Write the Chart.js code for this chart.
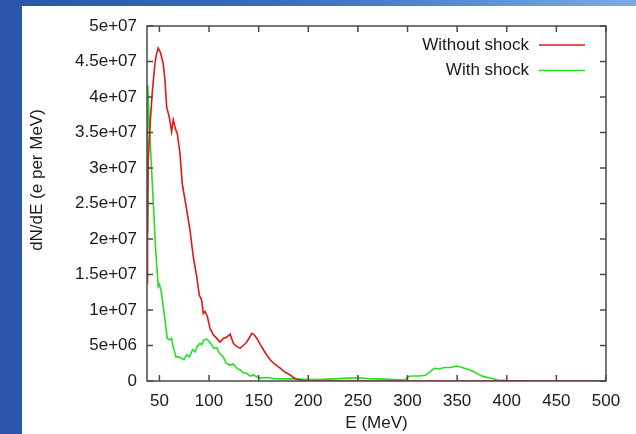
<!DOCTYPE html>
<html>
<head>
<meta charset="utf-8">
<script src="https://cdn.jsdelivr.net/npm/chart.js@4.4.1/dist/chart.umd.min.js"></script>
<style>
  html, body { margin: 0; padding: 0; }
  body {
    width: 636px; height: 434px; overflow: hidden; position: relative;
    background: linear-gradient(90deg, #2a55a8 0%, #3a6cc6 45%, #7fa8e6 100%);
  }
  #panel {
    position: absolute; left: 22px; top: 6px; right: 0; bottom: 0;
    background: #ffffff;
  }
  #wrap { position: absolute; left: 0; top: 0; width: 636px; height: 434px; }
</style>
</head>
<body>
<div id="panel"></div>
<div id="wrap"><canvas id="spectrumChart" width="636" height="434"></canvas></div>
<script>
// energia (MeV) y dN/dE, leidos a ojo de la figura
var energyNoShock = [37.5, 38, 38.7, 41, 43, 45.5, 47, 48.8, 50, 51.2, 53.8, 55.6, 57.3, 59.9,
    62.3, 63.9, 66.4, 68, 70.7, 73, 75.8, 77.5, 80.8, 84.1, 87.6, 90.2, 92.6, 94.2, 96, 98.3,
    101, 104.3, 107.8, 111.1, 114.4, 117.9, 121.2, 124.5, 127.5, 131.3, 134.5, 138.1, 141,
    143.1, 145.5, 148.2, 151.5, 154.8, 158, 161.6, 166, 171.7, 176, 181.8, 185, 188.6, 192,
    195, 200, 210, 250, 300, 400, 500];
var withoutShock = [13.8e6, 21e6, 31e6, 37e6, 41e6, 44.7e6, 46e6, 46.9e6, 46.6e6, 46.2e6,
    44.7e6, 42.4e6, 38.6e6, 37.2e6, 35.1e6, 36.8e6, 35.4e6, 34.9e6, 32.1e6, 27.8e6, 25.5e6,
    24.1e6, 21.3e6, 17.5e6, 14.7e6, 12.1e6, 11.4e6, 9.5e6, 9.8e6, 9.1e6, 7.4e6, 6.5e6, 6.0e6,
    5.5e6, 6.0e6, 6.2e6, 6.6e6, 5.3e6, 4.9e6, 4.6e6, 5.0e6, 5.5e6, 6.2e6, 6.7e6, 6.5e6, 6.0e6,
    5.2e6, 4.4e6, 3.7e6, 3.0e6, 2.4e6, 1.8e6, 1.3e6, 0.85e6, 0.5e6, 0.24e6, 0.12e6, 0.05e6,
    0.02e6, 0.01e6, 0, 0, 0, 0];

var energyShock = [37.5, 38.3, 39.3, 40.7, 42.4, 44.1, 45.8, 47.5, 48.8, 50, 51.5, 53.2, 55.6,
    57.9, 60.6, 62.3, 63.9, 66.7, 69, 72.4, 74.7, 77.5, 80.1, 83.5, 85.9, 88.2, 90.9, 92.6, 95,
    97, 99.3, 101.7, 105, 107.8, 110.4, 114.4, 117.2, 121.2, 124.5, 128, 131.3, 134.6, 138,
    141.4, 144.7, 148.2, 151.5, 158.3, 165, 175, 185, 195, 210, 225, 240, 250, 260, 270, 285,
    298, 300, 305, 312, 318, 322, 327, 332, 337, 343, 350, 355, 360, 367, 372, 376, 384, 391,
    401, 420, 435, 450, 500];
var withShock = [21e6, 41.7e6, 38e6, 33.7e6, 29e6, 24.4e6, 19.5e6, 15.9e6, 13.3e6, 13.6e6,
    12.8e6, 11.2e6, 8.6e6, 6.0e6, 5.8e6, 6.0e6, 4.8e6, 3.4e6, 3.4e6, 3.2e6, 3.0e6, 3.7e6, 3.4e6,
    4.4e6, 4.1e6, 4.9e6, 5.3e6, 5.1e6, 5.8e6, 5.9e6, 5.7e6, 5.3e6, 4.6e6, 4.7e6, 3.9e6, 3.4e6,
    2.5e6, 2.25e6, 2.4e6, 1.8e6, 1.55e6, 1.17e6, 1.08e6, 0.7e6, 0.85e6, 0.6e6, 0.4e6, 0.5e6,
    0.35e6, 0.3e6, 0.3e6, 0.25e6, 0.2e6, 0.3e6, 0.4e6, 0.45e6, 0.35e6, 0.3e6, 0.2e6, 0.15e6,
    0.6e6, 0.7e6, 0.7e6, 0.8e6, 1.2e6, 1.8e6, 1.7e6, 1.9e6, 1.9e6, 2.1e6, 1.9e6, 1.7e6, 1.3e6,
    0.9e6, 0.65e6, 0.4e6, 0.15e6, 0.05e6, 0.03e6, 0.01e6, 0, 0];

var seriesNames = ['Without shock', 'With shock'];
var xTicks = [50, 100, 150, 200, 250, 300, 350, 400, 450, 500];
var yTicks = [0, 5e6, 1e7, 1.5e7, 2e7, 2.5e7, 3e7, 3.5e7, 4e7, 4.5e7, 5e7];
var yTickLabels = ['0', '5e+06', '1e+07', '1.5e+07', '2e+07', '2.5e+07', '3e+07', '3.5e+07',
    '4e+07', '4.5e+07', '5e+07'];

function toPoints(xs, ys) {
    return xs.map(function (x, i) { return { x: x, y: ys[i] }; });
}

var FONT = '"Liberation Sans", Arial, sans-serif';

// marco, ticks hacia dentro (estilo gnuplot), leyenda y titulos de ejes
var gnuplotFrame = {
    id: 'gnuplotFrame',
    afterDatasetsDraw: function (chart) {
        var ctx = chart.ctx, a = chart.chartArea;
        var xs = chart.scales.x, ys = chart.scales.y;
        ctx.save();
        ctx.strokeStyle = '#4a4a4a';
        ctx.lineWidth = 1.5;
        ctx.strokeRect(a.left, a.top, a.right - a.left, a.bottom - a.top);
        ctx.beginPath();
        xTicks.forEach(function (v) {
            var px = xs.getPixelForValue(v);
            ctx.moveTo(px, a.bottom); ctx.lineTo(px, a.bottom - 6);
            ctx.moveTo(px, a.top); ctx.lineTo(px, a.top + 6);
        });
        yTicks.forEach(function (v) {
            var py = ys.getPixelForValue(v);
            ctx.moveTo(a.left, py); ctx.lineTo(a.left + 6, py);
            ctx.moveTo(a.right, py); ctx.lineTo(a.right - 6, py);
        });
        ctx.stroke();

        // leyenda
        ctx.font = '17px ' + FONT;
        ctx.fillStyle = '#1a1a1a';
        ctx.textAlign = 'right';
        ctx.textBaseline = 'middle';
        chart.data.datasets.forEach(function (ds, i) {
            var y = 45 + i * 25.5;
            ctx.fillText(ds.label, 529, y);
            ctx.strokeStyle = ds.borderColor;
            ctx.lineWidth = 1.5;
            ctx.beginPath();
            ctx.moveTo(539, y); ctx.lineTo(585, y);
            ctx.stroke();
        });

        // titulos
        ctx.textAlign = 'center';
        ctx.fillText('E (MeV)', (a.left + a.right) / 2, 423);
        ctx.translate(37, 180);
        ctx.rotate(-Math.PI / 2);
        ctx.fillText('dN/dE (e per MeV)', 0, 0);
        ctx.restore();
    }
};

var ctx = document.getElementById('spectrumChart').getContext('2d');
var spectrumChart = new Chart(ctx, {
    type: 'line',
    data: {
        datasets: [{
            label: seriesNames[0],
            data: toPoints(energyNoShock, withoutShock),
            borderColor: '#e01818',
            borderWidth: 1.6,
            pointRadius: 0,
            tension: 0
        }, {
            label: seriesNames[1],
            data: toPoints(energyShock, withShock),
            borderColor: '#22e022',
            borderWidth: 1.6,
            pointRadius: 0,
            tension: 0
        }]
    },
    options: {
        responsive: false,
        animation: false,
        layout: { padding: { top: 26, right: 30, left: 0, bottom: 0 } },
        plugins: { legend: { display: false }, tooltip: { enabled: false } },
        scales: {
            x: {
                type: 'linear',
                min: 37.5,
                max: 500,
                afterBuildTicks: function (scale) {
                    scale.ticks = xTicks.map(function (v) { return { value: v }; });
                },
                afterFit: function (scale) { scale.height = 53; },
                grid: { display: false, drawTicks: false, tickLength: 0 },
                border: { display: false },
                ticks: {
                    padding: 10,
                    color: '#1a1a1a',
                    font: { family: FONT, size: 17 },
                    maxRotation: 0,
                    autoSkip: false
                }
            },
            y: {
                min: 0,
                max: 5e7,
                afterBuildTicks: function (scale) {
                    scale.ticks = yTicks.map(function (v) { return { value: v }; });
                },
                afterFit: function (scale) { scale.width = 147; },
                grid: { display: false, drawTicks: false, tickLength: 0 },
                border: { display: false },
                ticks: {
                    padding: 10,
                    color: '#1a1a1a',
                    font: { family: FONT, size: 17 },
                    autoSkip: false,
                    callback: function (value) {
                        return yTickLabels[yTicks.indexOf(value)];
                    }
                }
            }
        }
    },
    plugins: [gnuplotFrame]
});
</script>
</body>
</html>
